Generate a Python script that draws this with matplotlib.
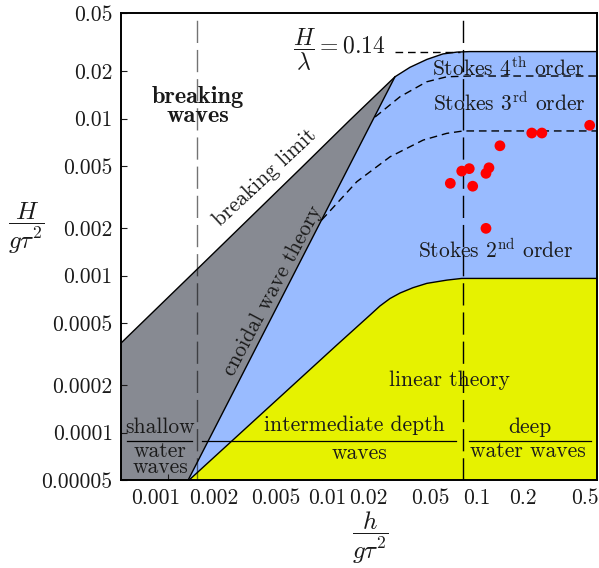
import numpy as np
import matplotlib.pyplot as plt
import matplotlib.transforms as mtransforms

plt.rcParams['font.family'] = 'cmr10'
plt.rcParams['mathtext.fontset'] = 'cm'
plt.rcParams['axes.unicode_minus'] = False

# limit curves, x = h/(g tau^2), y = H/(g tau^2)
breaking_x = [0.0005, 0.00162, 0.00719, 0.01514, 0.0296, 0.0370, 0.0476, 0.0605, 0.0745, 0.0903, 0.6]
breaking_y = [0.000372, 0.001143, 0.00477, 0.00979, 0.01845, 0.0212, 0.0238, 0.0258, 0.0265, 0.0267, 0.0267]
cnoidal_x = [0.00136, 0.0296]
cnoidal_y = [5e-5, 0.01845]
linear_x = [0.00138, 0.01242, 0.0204, 0.02366, 0.02748, 0.03192, 0.0387, 0.0476, 0.0643, 0.0800, 0.6]
linear_y = [5e-5, 0.000361, 0.000561, 0.000641, 0.000715, 0.000775, 0.000838, 0.000893, 0.000937, 0.00096, 0.00096]
stokes3_x = [0.00993, 0.01675, 0.0275, 0.0451, 0.0640, 0.0818, 0.6]
stokes3_y = [0.00226, 0.00396, 0.00571, 0.00730, 0.00805, 0.00834, 0.00834]
stokes4_x = [0.0220, 0.0319, 0.0474, 0.0640, 0.0903, 0.6]
stokes4_y = [0.01023, 0.01377, 0.01714, 0.01845, 0.01866, 0.01866]

shallow_limit = 0.00155
deep_limit = 0.081

# measured waves (red dots)
meas_x = [0.0675, 0.0800, 0.0895, 0.0942, 0.1148, 0.120, 0.1413, 0.227, 0.264, 0.538, 0.1148]
meas_y = [0.00387, 0.00463, 0.00480, 0.00371, 0.00448, 0.00486, 0.00671, 0.00809, 0.00809, 0.00906, 0.00200]

xticks = [0.001, 0.002, 0.005, 0.01, 0.02, 0.05, 0.1, 0.2, 0.5]
xtick_labels = ['0.001', '0.002', '0.005', '0.01', '0.02', '0.05', '0.1', '0.2', '0.5']
yticks = [0.00005, 0.0001, 0.0002, 0.0005, 0.001, 0.002, 0.005, 0.01, 0.02, 0.047]
ytick_labels = ['0.00005', '0.0001', '0.0002', '0.0005', '0.001', '0.002', '0.005', '0.01', '0.02', '0.05']

xmin, xmax = 0.0005, 0.6
ymin, ymax = 0.00005, 0.047

gray = '#878a92'
blue = '#99bbff'
yellow = '#e6f200'
tc = '#1a1a1a'
fs = 15.5

fig = plt.figure(figsize=(5.99, 5.68), dpi=100)
ax = fig.add_axes([121 / 599, 88 / 568, 476 / 599, 467 / 568])
ax.set_xscale('log')
ax.set_yscale('log')

# regions
kink = breaking_x.index(cnoidal_x[-1])
gx = [xmin] + breaking_x[:kink + 1] + cnoidal_x[::-1]
gy = [ymin] + breaking_y[:kink + 1] + cnoidal_y[::-1]
ax.fill(gx, gy, color=gray, lw=0, zorder=1)

bx = cnoidal_x + breaking_x[kink + 1:] + [xmax]
by = cnoidal_y + breaking_y[kink + 1:] + [ymin]
ax.fill(bx, by, color=blue, lw=0, zorder=1)

yx = linear_x + [xmax]
yy = linear_y + [ymin]
ax.fill(yx, yy, color=yellow, lw=0, zorder=2)

# boundaries
ax.plot(breaking_x, breaking_y, color='k', lw=1.0, zorder=3)
ax.plot(cnoidal_x, cnoidal_y, color='k', lw=1.0, zorder=3)
ax.plot(linear_x, linear_y, color='k', lw=1.0, zorder=3)
ax.plot(stokes3_x, stokes3_y, color='k', lw=1.0, dashes=(5.5, 3.5), zorder=3)
ax.plot(stokes4_x, stokes4_y, color='k', lw=1.0, dashes=(5.5, 3.5), zorder=3)
ax.plot([0.0296, 0.078], [breaking_y[-1]] * 2, color='k', lw=1.0, dashes=(5.5, 3.5), zorder=3)

ax.axvline(shallow_limit, color='k', alpha=0.55, lw=1.0, dashes=(16, 5), zorder=3)
ax.axvline(deep_limit, color='k', lw=1.0, dashes=(16, 5), zorder=3)

ax.scatter(meas_x, meas_y, s=60, color='#ff0000', edgecolors='none', zorder=5)

# labels inside the diagram
ax.text(0.162, 0.80, 'breaking\nwaves', transform=ax.transAxes, ha='center', va='center',
        fontfamily='cmb10', fontsize=17.5, color=tc, linespacing=0.8)
ax.text(0.3025, 0.6467, 'breaking limit', transform=ax.transAxes, ha='center', va='center',
        rotation=43, rotation_mode='anchor', fontsize=fs, color=tc)
ax.text(0.319, 0.405, 'cnoidal wave theory', transform=ax.transAxes, ha='center', va='center',
        rotation=62, rotation_mode='anchor', fontsize=fs, color=tc)
ax.text(0.556, 0.921, r'$\dfrac{H}{\lambda} = 0.14$', transform=ax.transAxes, ha='right', va='center',
        fontsize=17, color=tc)
ax.text(0.813, 0.882, r'Stokes $4^{\mathrm{th}}$ order', transform=ax.transAxes, ha='center', va='center',
        fontsize=fs, color=tc)
ax.text(0.815, 0.807, r'Stokes $3^{\mathrm{rd}}$ order', transform=ax.transAxes, ha='center', va='center',
        fontsize=fs, color=tc)
ax.text(0.786, 0.4925, r'Stokes $2^{\mathrm{nd}}$ order', transform=ax.transAxes, ha='center', va='center',
        fontsize=fs, color=tc)
ax.text(0.691, 0.214, 'linear theory', transform=ax.transAxes, ha='center', va='center',
        fontsize=fs, color=tc)

ax.text(0.082, 0.114, 'shallow', transform=ax.transAxes, ha='center', va='center', fontsize=fs, color=tc)
ax.text(0.082, 0.045, 'water\nwaves', transform=ax.transAxes, ha='center', va='center', fontsize=fs,
        color=tc, linespacing=0.8)
ax.text(0.4895, 0.118, 'intermediate depth', transform=ax.transAxes, ha='center', va='center',
        fontsize=fs, color=tc)
ax.text(0.502, 0.058, 'waves', transform=ax.transAxes, ha='center', va='center', fontsize=fs, color=tc)
ax.text(0.859, 0.114, 'deep', transform=ax.transAxes, ha='center', va='center', fontsize=fs, color=tc)
ax.text(0.855, 0.061, 'water waves', transform=ax.transAxes, ha='center', va='center', fontsize=fs, color=tc)

for x0, x1 in [(0.012, 0.150), (0.1695, 0.703), (0.731, 0.987)]:
    ax.plot([x0, x1], [0.084, 0.084], color='k', lw=0.9, transform=ax.transAxes, zorder=4)

# axes
ax.set_xlim(xmin, xmax)
ax.set_ylim(ymin, ymax)
ax.set_xticks(xticks)
ax.set_xticklabels(xtick_labels)
ax.set_yticks(yticks)
ax.set_yticklabels(ytick_labels)
ax.minorticks_off()
ax.tick_params(direction='in', length=4, width=0.8, labelsize=fs, colors=tc, pad=6)
for sp in ax.spines.values():
    sp.set_linewidth(1.4)
    sp.set_zorder(6)

# nudged tick labels, as in the original
for lab in ax.get_xticklabels():
    if lab.get_text() == '0.001':
        lab.set_transform(lab.get_transform() + mtransforms.ScaledTranslation(-0.12, 0, fig.dpi_scale_trans))
    elif lab.get_text() == '0.01':
        lab.set_transform(lab.get_transform() + mtransforms.ScaledTranslation(0.05, 0, fig.dpi_scale_trans))

fig.text(26 / 599, (568 - 228) / 568, r'$\dfrac{H}{g\tau^2}$', ha='center', va='center', fontsize=18, color=tc)
fig.text(370 / 599, (568 - 538) / 568, r'$\dfrac{h}{g\tau^2}$', ha='center', va='center', fontsize=18, color=tc)

fig.savefig('out.png', dpi=100)
